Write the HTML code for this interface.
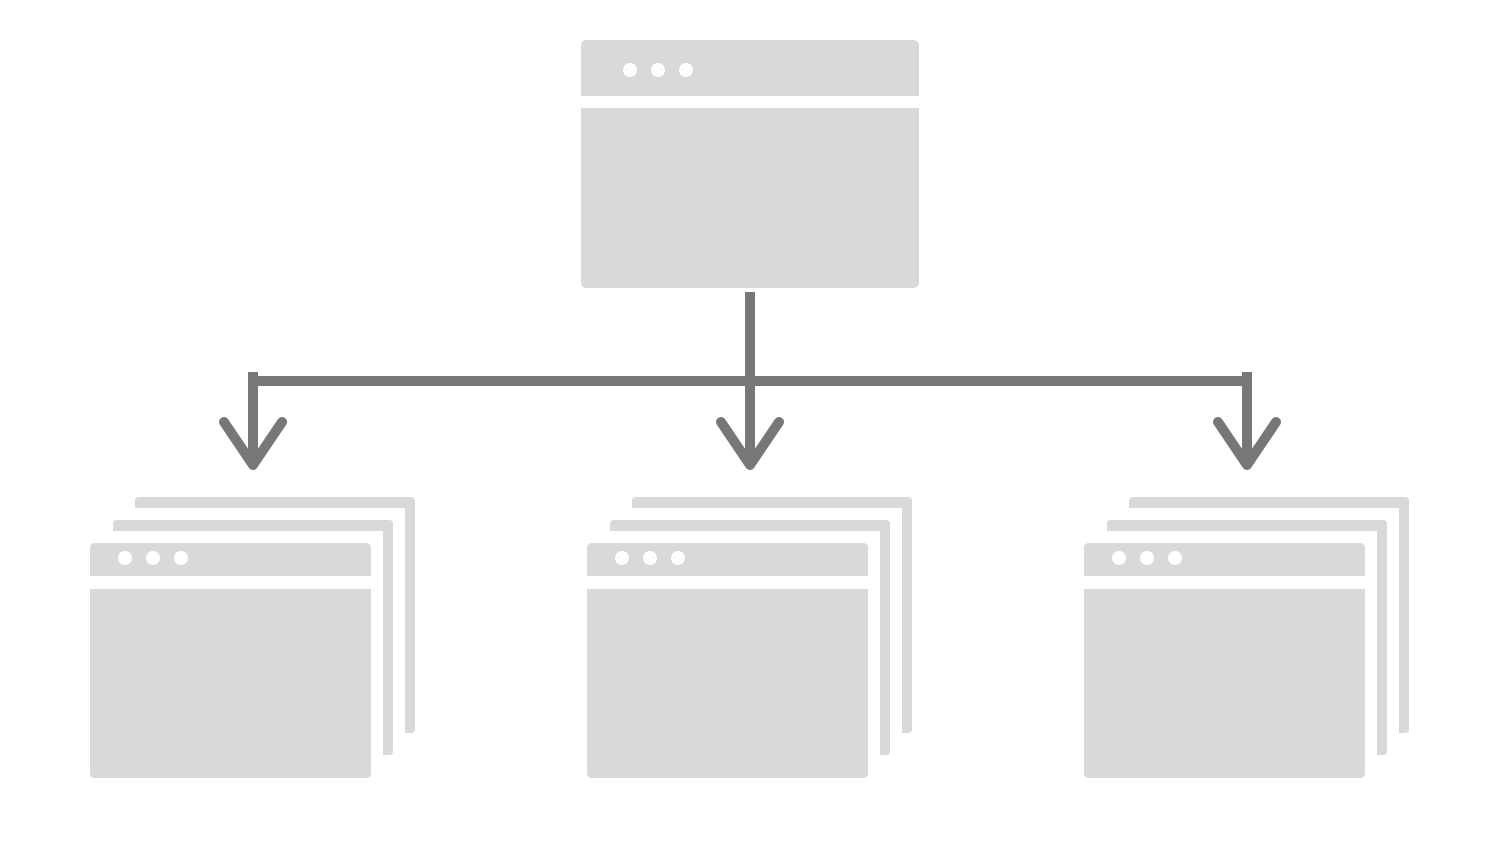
<!DOCTYPE html>
<html><head><meta charset="utf-8"><style>body{margin:0;background:#fff}</style></head>
<body>
<svg width="1500" height="844" viewBox="0 0 1500 844" xmlns="http://www.w3.org/2000/svg">
<defs>
<g id="stack">
  <path d="M135,508 V501 Q135,497 139,497 H411 Q415,497 415,501 V729 Q415,733 411,733 H405 V508 Z" fill="#d9d9d9"/>
  <path d="M113,531 V524 Q113,520 117,520 H389 Q393,520 393,524 V751 Q393,755 389,755 H383 V531 Z" fill="#d9d9d9"/>
  <path d="M90,576 V548 Q90,543 95,543 H366 Q371,543 371,548 V576 Z" fill="#d9d9d9"/>
  <path d="M90,589 H371 V773 Q371,778 366,778 H95 Q90,778 90,773 Z" fill="#d9d9d9"/>
  <circle cx="125" cy="558" r="7" fill="#fff"/>
  <circle cx="153" cy="558" r="7" fill="#fff"/>
  <circle cx="181" cy="558" r="7" fill="#fff"/>
</g>
</defs>
<path d="M581,96 V46 Q581,40 587,40 H913 Q919,40 919,46 V96 Z" fill="#d9d9d9"/>
<path d="M581,108 H919 V282 Q919,288 913,288 H587 Q581,288 581,282 Z" fill="#d9d9d9"/>
<circle cx="630" cy="70" r="7" fill="#fff"/>
<circle cx="658" cy="70" r="7" fill="#fff"/>
<circle cx="686" cy="70" r="7" fill="#fff"/>
<use href="#stack"/>
<use href="#stack" x="497"/>
<use href="#stack" x="994"/>
<g stroke="#777" stroke-width="10" fill="none">
  <line x1="750" y1="292" x2="750" y2="462"/>
  <line x1="248" y1="381" x2="1252" y2="381"/>
  <line x1="253" y1="372" x2="253" y2="462"/>
  <line x1="1247" y1="372" x2="1247" y2="462"/>
  <g stroke-linecap="round" stroke-linejoin="round">
    <polyline points="224,422 253,465 282,422"/>
    <polyline points="721,422 750,465 779,422"/>
    <polyline points="1218,422 1247,465 1276,422"/>
  </g>
</g>
</svg>
</body></html>
